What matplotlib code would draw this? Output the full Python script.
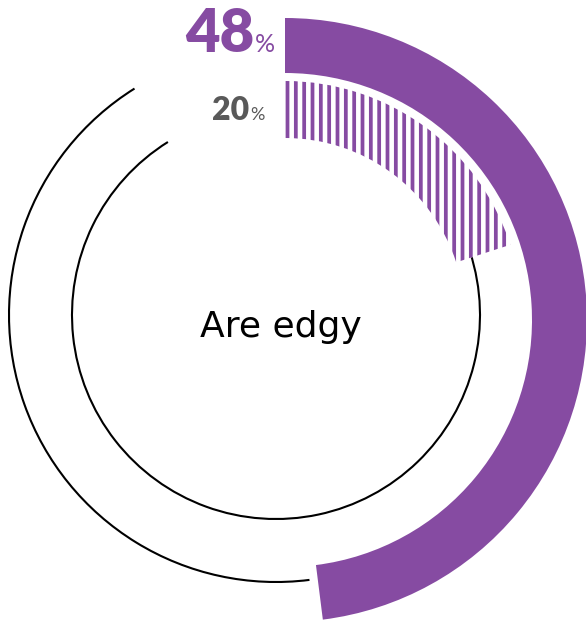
import matplotlib
matplotlib.use("Agg")
import matplotlib.pyplot as plt
from matplotlib.patches import Wedge, Arc

# Data
label = "Are edgy"
outer_value = 48   # percent, solid ring
inner_value = 20   # percent, hatched ring

purple = "#864ba2"
grey = "#595959"

W, H = 586, 633
fig = plt.figure(figsize=(W / 100, H / 100), dpi=100)
ax = fig.add_axes([0, 0, 1, 1])
ax.set_xlim(0, W)
ax.set_ylim(0, H)
ax.set_aspect("equal")
ax.axis("off")

plt.rcParams["hatch.linewidth"] = 2.7


def clock_to_math(a):
    """Angle measured clockwise from 12 o'clock -> matplotlib degrees."""
    return 90 - a


# centres of the track circles and of the (slightly pulled-out) value wedges
track_c = (276, 318)
outer_c = (285, 313)
inner_c = (285, 315)

outer_end = 360 * outer_value / 100
inner_end = 360 * inner_value / 100

# thin track lines for the remainder of each ring
gap = 32
ax.add_patch(Arc(track_c, 2 * 267, 2 * 267,
                 theta1=clock_to_math(360 - gap), theta2=clock_to_math(outer_end),
                 color="black", lw=1.5))
ax.add_patch(Arc(track_c, 2 * 204, 2 * 204,
                 theta1=clock_to_math(360 - gap), theta2=clock_to_math(inner_end),
                 color="black", lw=1.5))

# solid outer wedge
ax.add_patch(Wedge(outer_c, 302, clock_to_math(outer_end), 90, width=55,
                   facecolor=purple, edgecolor="none"))
# hatched inner wedge
ax.add_patch(Wedge(inner_c, 237, clock_to_math(inner_end), 90, width=57,
                   facecolor="white", edgecolor=purple, hatch="||", lw=0))

# value labels
font = "Lato"
ax.text(254, H - 52, str(outer_value), ha="right", va="baseline", color=purple,
        fontsize=43, fontweight="heavy", family=font)
ax.text(255, H - 52, "%", ha="left", va="baseline", color=purple,
        fontsize=18, family=font)

ax.text(249, H - 120, str(inner_value), ha="right", va="baseline", color=grey,
        fontsize=23, fontweight="heavy", family=font)
ax.text(250, H - 120, "%", ha="left", va="baseline", color=grey,
        fontsize=13, family=font)

ax.text(281, H - 327, label, ha="center", va="center", color="black",
        fontsize=26, family="DejaVu Sans")

fig.savefig("out.png", dpi=100)
